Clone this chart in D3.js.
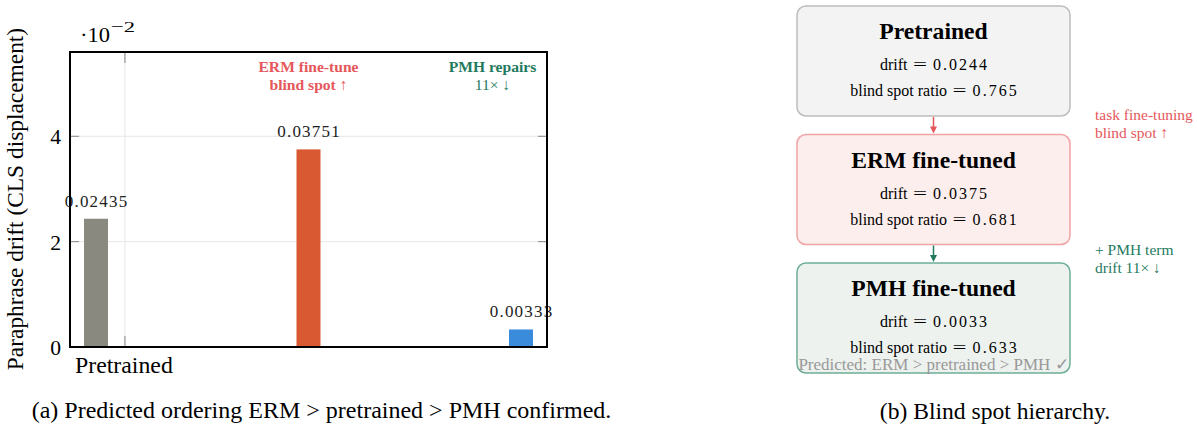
<!DOCTYPE html>
<html><head><meta charset="utf-8">
<script src="https://cdn.jsdelivr.net/npm/d3@7"></script>
<style>body{margin:0;background:#fff}svg{display:block}text{font-family:"Liberation Serif","Times New Roman",serif}</style>
</head><body><svg id="c" width="1197" height="426"></svg>
<script>
// ---- data ----
const categories = ["Pretrained", "ERM fine-tuned", "PMH fine-tuned"];
const driftValues = [0.02435, 0.03751, 0.00333];
const barLabels = ["0.02435", "0.03751", "0.00333"];
const barColors = ["#8a8980", "#d95a32", "#3a8bdc"];
const yTicks = [0, 0.02, 0.04];
const yTickLabels = ["0", "2", "4"];
const xTickPositions = [0.136];
const xTickLabels = ["Pretrained"];
const boxTitles = ["Pretrained", "ERM fine-tuned", "PMH fine-tuned"];
const boxDrift = ["0.0244", "0.0375", "0.0033"];
const boxRatio = ["0.765", "0.681", "0.633"];
const sideNotes = [["task fine-tuning", "blind spot \u2191"], ["+ PMH term", "drift 11\u00d7 \u2193"]];

const svg = d3.select("#c");
const RED = "#e5575a", GREEN = "#1f7a5e";

// ---- left panel ----
const frame = {l: 70, r: 547, t: 52, b: 347};
const x = d3.scaleLinear().domain([0, 2]).range([96, 521]);
const y = d3.scaleLinear().domain([0, 0.056]).range([frame.b, frame.t]);
const bw = 24;

const g = svg.append("g");
g.selectAll(".hg").data(yTicks.slice(1)).join("line")
  .attr("x1", frame.l).attr("x2", frame.r).attr("y1", d => y(d)).attr("y2", d => y(d))
  .attr("stroke", "#e6e6e6").attr("stroke-width", 1);
g.selectAll(".vg").data(xTickPositions).join("line")
  .attr("x1", d => x(d)).attr("x2", d => x(d)).attr("y1", frame.t).attr("y2", frame.b)
  .attr("stroke", "#e6e6e6");
yTicks.slice(1).forEach(v => {
  g.append("line").attr("x1", frame.l).attr("x2", frame.l + 9).attr("y1", y(v)).attr("y2", y(v)).attr("stroke", "#888");
  g.append("line").attr("x1", frame.r - 9).attr("x2", frame.r).attr("y1", y(v)).attr("y2", y(v)).attr("stroke", "#888");
});
xTickPositions.forEach(v => {
  g.append("line").attr("x1", x(v)).attr("x2", x(v)).attr("y1", frame.b).attr("y2", frame.b - 11).attr("stroke", "#aaa").attr("stroke-width", 1.5);
  g.append("line").attr("x1", x(v)).attr("x2", x(v)).attr("y1", frame.t).attr("y2", frame.t + 11).attr("stroke", "#aaa").attr("stroke-width", 1.5);
});
g.selectAll(".bar").data(driftValues).join("rect")
  .attr("x", (d, i) => x(i) - bw / 2).attr("width", bw)
  .attr("y", d => y(d)).attr("height", d => y(0) - y(d))
  .attr("fill", (d, i) => barColors[i]);
g.selectAll(".bl").data(driftValues).join("text")
  .attr("x", (d, i) => x(i) + 0.6).attr("y", d => y(d) - 12)
  .attr("text-anchor", "middle").attr("font-size", 17).attr("letter-spacing", 1.2).attr("fill", "#222")
  .text((d, i) => barLabels[i]);
g.append("rect").attr("x", frame.l).attr("y", frame.t).attr("width", frame.r - frame.l).attr("height", frame.b - frame.t)
  .attr("fill", "none").attr("stroke", "#000").attr("stroke-width", 2);
g.selectAll(".yl").data(yTicks).join("text")
  .attr("x", frame.l - 9).attr("y", d => y(d) + 8).attr("text-anchor", "end").attr("font-size", 21.6)
  .text((d, i) => yTickLabels[i]);
g.selectAll(".xl").data(xTickPositions).join("text")
  .attr("x", d => x(d) - 1).attr("y", frame.b + 26).attr("text-anchor", "middle").attr("font-size", 23.8)
  .text((d, i) => xTickLabels[i]);
g.append("text").attr("x", 80).attr("y", 42).attr("font-size", 21.6)
  .attr("textLength", 30).attr("lengthAdjust", "spacingAndGlyphs").text("\u00b710");
g.append("text").attr("x", 111).attr("y", 32).attr("font-size", 15.5)
  .attr("textLength", 24).attr("lengthAdjust", "spacingAndGlyphs").text("\u22122");
g.append("text").attr("transform", "translate(23,199) rotate(-90)").attr("text-anchor", "middle")
  .attr("font-size", 23.4).text("Paraphrase drift (CLS displacement)");
const ann = [
  {t: "ERM fine-tune", x: 1, y: 72, bold: true, c: RED},
  {t: "blind spot \u2191", x: 1, y: 90, bold: true, c: RED},
  {t: "PMH repairs", x: 1.866, y: 72, bold: true, c: GREEN},
  {t: "11\u00d7 \u2193", x: 1.866, y: 90, bold: false, c: GREEN}
];
g.selectAll(".ann").data(ann).join("text")
  .attr("x", d => x(d.x)).attr("y", d => d.y).attr("text-anchor", "middle").attr("font-size", 15.6)
  .attr("font-weight", d => d.bold ? "bold" : "normal").attr("fill", d => d.c).text(d => d.t);
g.append("text").attr("x", 321.5).attr("y", 418).attr("text-anchor", "middle").attr("font-size", 24)
  .text("(a) Predicted ordering ERM > pretrained > PMH confirmed.");

// ---- right panel ----
const boxFill = ["#f3f3f3", "#fdeeee", "#edf2ef"];
const boxStroke = ["#bdbdbd", "#f0a3a5", "#6eae98"];
const arrowColors = [RED, GREEN];
const bx0 = 797, bx1 = 1070, cx = (bx0 + bx1) / 2;
const boxTop = d3.scaleLinear().domain([0, 1]).range([6, 134.5]);
const bh = 110;
const r = svg.append("g");
function mathLine(sel, label, val, yy) {
  const grp = sel.append("g");
  const lt = grp.append("text").attr("y", yy).attr("font-size", 16).text(label);
  const wL = lt.node().getComputedTextLength();
  const nd = val.replace(".", "").length;
  const wN = nd * 9.8 + 5;
  const eqW = 14, gap1 = 5.5, gap2 = 6;
  const total = wL + gap1 + eqW + gap2 + wN;
  const x0 = cx - total / 2;
  lt.attr("x", x0);
  grp.append("text").attr("x", x0 + wL + gap1).attr("y", yy).attr("font-size", 16)
    .attr("textLength", eqW).attr("lengthAdjust", "spacingAndGlyphs").text("=");
  grp.append("text").attr("x", x0 + wL + gap1 + eqW + gap2).attr("y", yy).attr("font-size", 16)
    .attr("textLength", wN).attr("lengthAdjust", "spacing").text(val);
}
boxTitles.forEach((t, i) => {
  const top = boxTop(i);
  r.append("rect").attr("x", bx0).attr("y", top).attr("width", bx1 - bx0).attr("height", bh)
    .attr("rx", 9).attr("fill", boxFill[i]).attr("stroke", boxStroke[i]).attr("stroke-width", 1.5);
  r.append("text").attr("x", cx).attr("y", top + 33).attr("text-anchor", "middle").attr("font-size", 23.6)
    .attr("font-weight", "bold").text(t);
  mathLine(r, "drift", boxDrift[i], top + 64);
  mathLine(r, "blind spot ratio", boxRatio[i], top + 90);
});
[0, 1].forEach(i => {
  const y0 = boxTop(i) + bh + 1, y1 = boxTop(i + 1) - 1;
  r.append("line").attr("x1", cx).attr("x2", cx).attr("y1", y0).attr("y2", y1 - 5)
    .attr("stroke", arrowColors[i]).attr("stroke-width", 1.5);
  r.append("path").attr("d", `M${cx - 3.5},${y1 - 7} L${cx + 3.5},${y1 - 7} L${cx},${y1} Z`).attr("fill", arrowColors[i]);
  sideNotes[i].forEach((s, j) => {
    r.append("text").attr("x", 1095).attr("y", boxTop(i) + bh + 4 + j * 18 + (i ? 6 : 0)).attr("font-size", 15.5)
      .attr("fill", arrowColors[i]).text(s);
  });
});
r.append("text").attr("x", cx).attr("y", 370).attr("text-anchor", "middle").attr("font-size", 17)
  .attr("fill", "#999").text("Predicted: ERM > pretrained > PMH \u2713");
r.append("text").attr("x", 995).attr("y", 419).attr("text-anchor", "middle").attr("font-size", 23.6)
  .text("(b) Blind spot hierarchy.");
</script></body></html>
